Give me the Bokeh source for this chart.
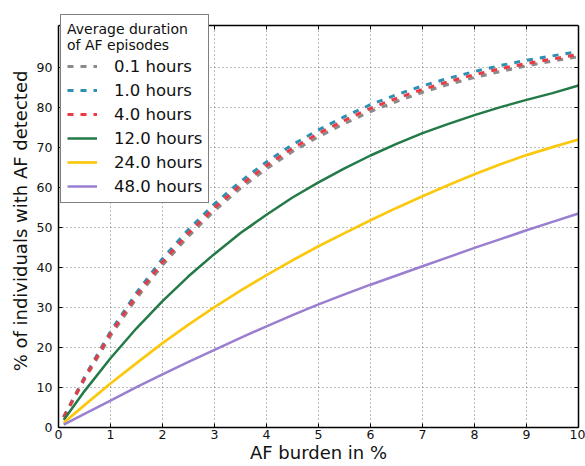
from bokeh.plotting import figure
from bokeh.models import (Range1d, FixedTicker, LinearAxis, Legend, LegendItem,
                          CustomJSTickFormatter, Span)
from bokeh.embed import file_html
from bokeh.resources import INLINE

# ---------------- data ----------------
burden = [0.1, 0.5, 1.0, 1.5, 2.0, 2.5, 3.0, 3.5, 4.0, 4.5, 5.0,
          5.5, 6.0, 6.5, 7.0, 7.5, 8.0, 8.5, 9.0, 9.5, 10.0]

dur_labels = ["0.1 hours", "1.0 hours", "4.0 hours",
              "12.0 hours", "24.0 hours", "48.0 hours"]

det_01h = [2.5, 12.0, 22.9, 32.3, 40.6, 47.8, 54.2, 59.8, 64.7, 69.0, 72.7,
           76.0, 79.0, 81.5, 83.8, 85.8, 87.5, 89.0, 90.4, 91.6, 92.7]
det_1h = [2.7, 12.6, 24.0, 33.7, 42.2, 49.5, 55.9, 61.5, 66.4, 70.7, 74.4,
          77.7, 80.7, 83.2, 85.4, 87.3, 89.0, 90.5, 91.8, 92.9, 94.0]
det_4h = [2.6, 12.3, 23.5, 33.0, 41.4, 48.6, 55.0, 60.6, 65.5, 69.8, 73.5,
          76.8, 79.8, 82.3, 84.5, 86.5, 88.2, 89.7, 91.0, 92.1, 93.3]
det_12h = [1.9, 9.1, 17.3, 24.8, 31.6, 37.8, 43.4, 48.6, 53.2, 57.5, 61.3,
           64.8, 68.0, 70.9, 73.6, 75.9, 78.1, 80.1, 81.9, 83.6, 85.5]
det_24h = [1.2, 5.6, 11.0, 16.1, 21.1, 25.7, 30.1, 34.2, 38.1, 41.8, 45.3,
           48.6, 51.8, 54.9, 57.8, 60.6, 63.3, 65.8, 68.1, 70.1, 72.0]
det_48h = [0.7, 3.4, 6.7, 10.1, 13.3, 16.4, 19.4, 22.4, 25.3, 28.1, 30.8,
           33.3, 35.7, 38.0, 40.3, 42.6, 44.9, 47.1, 49.3, 51.4, 53.5]

x_ticks = [0, 1, 2, 3, 4, 5, 6, 7, 8, 9, 10]
y_ticks = [0, 10, 20, 30, 40, 50, 60, 70, 80, 90]
y_top = 100.5          # top edge of the axes box

x_title = "AF burden in %"
y_title = "% of individuals with AF detected"
legend_title = "Average duration\nof AF episodes"

# ---------------- styles ----------------
series = [det_01h, det_1h, det_4h, det_12h, det_24h, det_48h]
colors = ["#8a8a8a", "#2e8fb2", "#ec3a43", "#237a47", "#fbc80e", "#9a7fd0"]
dashes = ["6 7", "6 7", "6 7", "solid", "solid", "solid"]
widths = [3, 3, 3, 2.5, 2.7, 2.5]

FONT = "DejaVu Sans"
PX_PER_UNIT = 4.0      # vertical scale of the frame (px per y unit)

# the frame reaches 11px above the axes box so the legend may overhang it
p = figure(width=585, height=466, output_backend="svg", toolbar_location=None,
           x_range=Range1d(0, 10), y_range=Range1d(0, y_top + 11 / PX_PER_UNIT),
           min_border_left=58, min_border_right=7, min_border_top=14,
           min_border_bottom=39)
p.background_fill_color = "white"
p.border_fill_color = "white"
p.outline_line_color = None

for ax, ticks in ((p.xaxis[0], x_ticks), (p.yaxis[0], y_ticks)):
    ax.ticker = FixedTicker(ticks=ticks)
    ax.minor_tick_line_color = None
    ax.major_tick_in = 4
    ax.major_tick_out = 0
    ax.axis_line_color = "black"
    ax.axis_line_width = 1.5
    ax.major_tick_line_color = "black"
    ax.major_label_text_font = FONT
    ax.major_label_text_font_size = "12.5px"
    ax.major_label_text_color = "#111111"
    ax.axis_label_text_font = FONT
    ax.axis_label_text_font_size = "18px"
    ax.axis_label_text_font_style = "normal"
    ax.axis_label_text_color = "#111111"
p.yaxis.bounds = (0, y_top)
p.xaxis.major_label_standoff = 2
p.yaxis.major_label_standoff = 6
p.xaxis.axis_label = x_title
p.yaxis.axis_label = y_title
p.xaxis.axis_label_standoff = 0
p.yaxis.axis_label_standoff = 3

# mirror ticks on the right
rax = LinearAxis(ticker=FixedTicker(ticks=y_ticks), bounds=(0, y_top),
                 formatter=CustomJSTickFormatter(code="return ''"))
rax.minor_tick_line_color = None
rax.major_tick_in = 4
rax.major_tick_out = 0
rax.major_label_standoff = 0
rax.major_label_text_font_size = "1px"
rax.axis_line_color = "black"
rax.axis_line_width = 1.5
rax.major_tick_line_color = "black"
p.add_layout(rax, "right")

# top edge of the axes box, with inward tick marks
p.add_layout(Span(location=y_top, dimension="width", line_color="black",
                  line_width=1.5))
p.segment(x0=x_ticks, y0=[y_top] * len(x_ticks), x1=x_ticks,
          y1=[y_top - 4 / PX_PER_UNIT] * len(x_ticks),
          line_color="black", line_width=1)

for g in (p.xgrid[0], p.ygrid[0]):
    g.grid_line_color = "#777777"
    g.grid_line_dash = "1 3"
    g.grid_line_width = 1
p.xgrid.ticker = FixedTicker(ticks=x_ticks)
p.ygrid.ticker = FixedTicker(ticks=y_ticks)
p.xgrid.cross_bounds = (0, y_top)

items = []
for lab, ys, c, d, w in zip(dur_labels, series, colors, dashes, widths):
    r = p.line(burden, ys, line_color=c, line_width=w, line_dash=d)
    items.append(LegendItem(label=lab, renderers=[r]))

legend = Legend(items=items, location=(2, 224), title=legend_title,
                title_text_font=FONT, title_text_font_size="14px",
                title_text_font_style="normal", title_text_color="#111111",
                title_standoff=3,
                label_text_font=FONT, label_text_font_size="16.5px",
                label_text_color="#111111",
                glyph_width=30, glyph_height=20, label_height=20,
                label_standoff=17, spacing=4, padding=6, margin=0,
                border_line_color="black", border_line_width=1.5,
                background_fill_color="white", background_fill_alpha=1.0)
p.add_layout(legend, "center")

open("out.html", "w").write(file_html(p, INLINE))
